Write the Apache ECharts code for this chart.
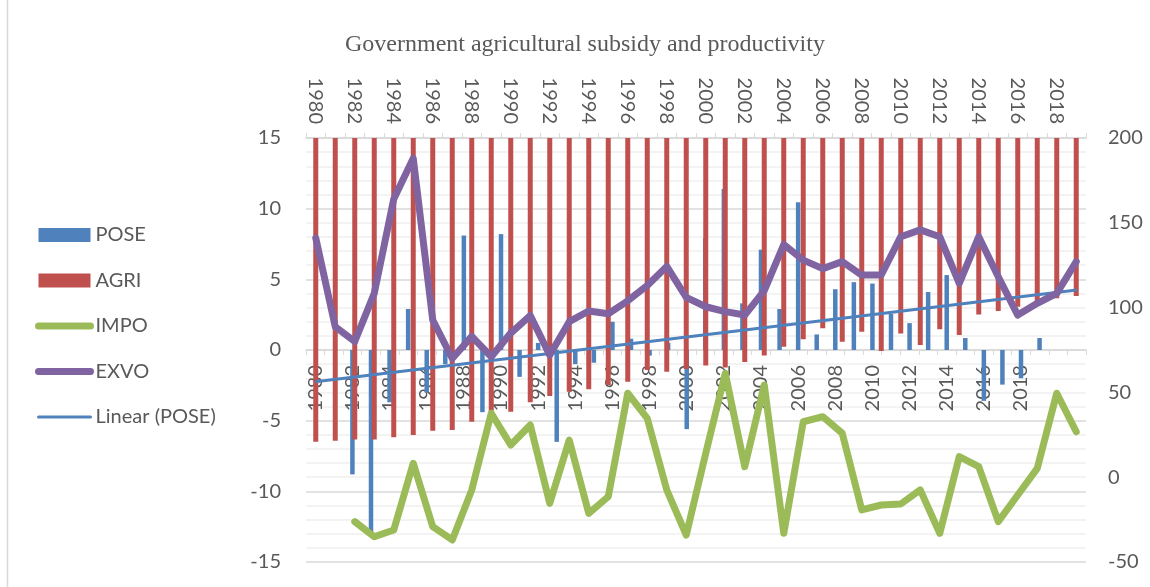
<!DOCTYPE html>
<html>
<head>
<meta charset="utf-8">
<script src="https://cdn.jsdelivr.net/npm/echarts@6/dist/echarts.min.js"></script>
<style>
  html, body { margin: 0; padding: 0; background: #fff; }
  #chart { width: 1150px; height: 587px; }
</style>
</head>
<body>
<div id="chart"></div>
<script>
// years on the secondary (top) axis
const years = ['1980', '1981', '1982', '1983', '1984', '1985', '1986', '1987', '1988', '1989',
  '1990', '1991', '1992', '1993', '1994', '1995', '1996', '1997', '1998', '1999',
  '2000', '2001', '2002', '2003', '2004', '2005', '2006', '2007', '2008', '2009',
  '2010', '2011', '2012', '2013', '2014', '2015', '2016', '2017', '2018', '2019'];
// primary (bottom) axis has two empty slots at the end
const primaryCats = years.concat(['', '']);

// POSE, left axis
const pose = ['-', '-', -8.8, -12.9, -3.7, 2.9, -3.0, -1.0, 8.1, -4.4,
  8.2, -1.9, 0.5, -6.5, -1.0, -0.9, 2.0, 0.8, -0.4, 0.5,
  -5.6, 7.9, 11.4, 3.3, 7.1, 2.9, 10.45, 1.1, 4.3, 4.8,
  4.7, 2.55, 1.9, 4.1, 5.3, 0.85, -3.6, -2.45, -2.0, 0.85];

// AGRI, right axis, bars hang from the top (200)
const agri = [20.9, 21.5, 22.3, 22.3, 23.5, 24.9, 27.4, 27.8, 32.7, 38.6,
  38.6, 44.2, 47.9, 50.4, 51.8, 54.4, 56.3, 63.2, 62.2, 63.8,
  65.9, 64.7, 67.9, 71.8, 76.9, 81.3, 87.8, 79.9, 85.8, 74.4,
  84.8, 77.9, 87.2, 83.8, 96.0, 98.0, 100.5, 102.5, 105.5, 106.8];

// IMPO, right axis
const impo = ['-', '-', -26.2, -35.1, -31.1, 8.2, -29.2, -37.0, -7.5, 37.7,
  19.0, 30.8, -15.4, 21.9, -21.3, -11.5, 49.5, 34.7, -7.5, -34.1,
  14.1, 61.3, 6.2, 54.4, -33.1, 32.7, 35.7, 25.9, -19.3, -16.4,
  -15.8, -7.5, -33.1, 12.1, 6.2, -26.2, -10.5, 5.2, 49.5, 26.8];

// EXVO, right axis
const exvo = [141, 88.7, 80, 108.4, 164, 188, 92.7, 70, 83, 71,
  85, 95.3, 72, 91.7, 98, 96.4, 104, 113, 124.3, 106,
  100.5, 97.6, 95.6, 110, 137.2, 128, 123, 127.1, 119.2, 119.2,
  141.8, 145.8, 141.8, 114.3, 141.8, 118.2, 95.6, 102.5, 108.4, 127.1];

// Linear (POSE) trend end points, first and last primary category
const trendStart = -2.25;
const trendEnd = 4.25;

const leftTicks = { min: -15, max: 15, interval: 5 };
const rightTicks = { min: -50, max: 200, interval: 50 };

const txt = '#595959';
const font = 'Lato';
const agriTop = rightTicks.max;

const gridTop = 138, gridBottom = 25, chartH = 587;
// the primary category axis sits on the left axis' zero line
const plotH = chartH - gridTop - gridBottom;
const zeroOffset = -plotH * (0 - leftTicks.min) / (leftTicks.max - leftTicks.min);

const chart = echarts.init(document.getElementById('chart'));

const option = {
  backgroundColor: '#fff',
  animation: false,
  title: {
    text: 'Government agricultural subsidy and productivity',
    left: 340,
    top: 28,
    textStyle: { fontFamily: 'Liberation Serif', fontSize: 24, fontWeight: 'normal', color: txt }
  },
  legend: {
    orient: 'vertical',
    left: 35,
    top: 225,
    padding: 0,
    itemWidth: 52,
    itemHeight: 14,
    itemGap: 25.5,
    textStyle: { fontFamily: font, fontSize: 20, color: txt },
    data: [
      { name: 'POSE', icon: 'rect' },
      { name: 'AGRI', icon: 'rect' },
      { name: 'IMPO', itemStyle: { opacity: 0 }, lineStyle: { width: 7, cap: 'round' } },
      { name: 'EXVO', itemStyle: { opacity: 0 }, lineStyle: { width: 7, cap: 'round' } },
      { name: 'Linear (POSE)', itemStyle: { opacity: 0 }, lineStyle: { width: 3, cap: 'round' } }
    ]
  },
  grid: { left: 306, right: 64, top: gridTop, bottom: gridBottom, outerBoundsMode: 'none', containLabel: false },
  xAxis: [{
    type: 'category',
    data: primaryCats,
    position: 'bottom',
    offset: zeroOffset,
    axisLine: { onZero: false, lineStyle: { color: '#d9d9d9', width: 1.5 } },
    axisTick: { show: true, interval: 0, length: 5, lineStyle: { color: '#d9d9d9' } },
    axisLabel: { interval: 1, rotate: 90, margin: 15, color: txt, fontFamily: font, fontSize: 20 },
    splitLine: { show: false }
  }, {
    type: 'category',
    data: years,
    position: 'top',
    axisLine: { onZero: false, lineStyle: { color: '#d9d9d9', width: 1.5 } },
    axisTick: { show: true, interval: 0, length: 5, lineStyle: { color: '#d9d9d9' } },
    axisLabel: { interval: 1, rotate: 90, margin: 14, color: txt, fontFamily: font, fontSize: 20 },
    splitLine: { show: false }
  }],
  yAxis: [{
    type: 'value',
    position: 'left',
    min: leftTicks.min, max: leftTicks.max, interval: leftTicks.interval,
    axisLine: { show: false },
    axisTick: { show: false },
    axisLabel: { margin: 25, color: txt, fontFamily: font, fontSize: 20 },
    splitLine: { lineStyle: { color: '#d9d9d9', width: 1.5 } },
    minorTick: { show: false, splitNumber: 5 },
    minorSplitLine: { show: true, lineStyle: { color: '#efefef', width: 1.5 } }
  }, {
    type: 'value',
    position: 'right',
    min: rightTicks.min, max: rightTicks.max, interval: rightTicks.interval,
    axisLine: { show: false },
    axisTick: { show: false },
    axisLabel: { margin: 22, color: txt, fontFamily: font, fontSize: 20 },
    splitLine: { show: false }
  }, {
    // hidden helper: AGRI bars measured down from the top of the right axis
    type: 'value',
    show: false,
    inverse: true,
    min: 0,
    max: rightTicks.max - rightTicks.min,
    splitLine: { show: false }
  }],
  series: [{
    name: 'POSE',
    type: 'bar',
    xAxisIndex: 0, yAxisIndex: 0,
    data: pose,
    barWidth: 4.5,
    itemStyle: { color: '#4f81bd' },
    z: 2
  }, {
    name: 'AGRI',
    type: 'bar',
    xAxisIndex: 1, yAxisIndex: 2,
    data: agri.map(v => agriTop - v),
    barWidth: 5,
    itemStyle: { color: '#c0504d' },
    z: 3
  }, {
    name: 'IMPO',
    type: 'line',
    xAxisIndex: 1, yAxisIndex: 1,
    data: impo,
    symbol: 'none',
    lineStyle: { color: '#9bbb59', width: 7, cap: 'round', join: 'round' },
    itemStyle: { color: '#9bbb59' },
    z: 5
  }, {
    name: 'EXVO',
    type: 'line',
    xAxisIndex: 1, yAxisIndex: 1,
    data: exvo,
    symbol: 'none',
    lineStyle: { color: '#8064a2', width: 7, cap: 'round', join: 'round' },
    itemStyle: { color: '#8064a2' },
    z: 5
  }, {
    name: 'Linear (POSE)',
    type: 'line',
    xAxisIndex: 0, yAxisIndex: 0,
    data: [[0, trendStart], [primaryCats.length - 1, trendEnd]],
    symbol: 'none',
    lineStyle: { color: '#4f81bd', width: 3 },
    itemStyle: { color: '#4f81bd' },
    z: 4
  }],
  graphic: [{
    type: 'line',
    shape: { x1: 7.5, y1: 0, x2: 7.5, y2: 587 },
    style: { stroke: '#d9d9d9', lineWidth: 1.5 }
  }]
};

chart.setOption(option);
</script>
</body>
</html>
